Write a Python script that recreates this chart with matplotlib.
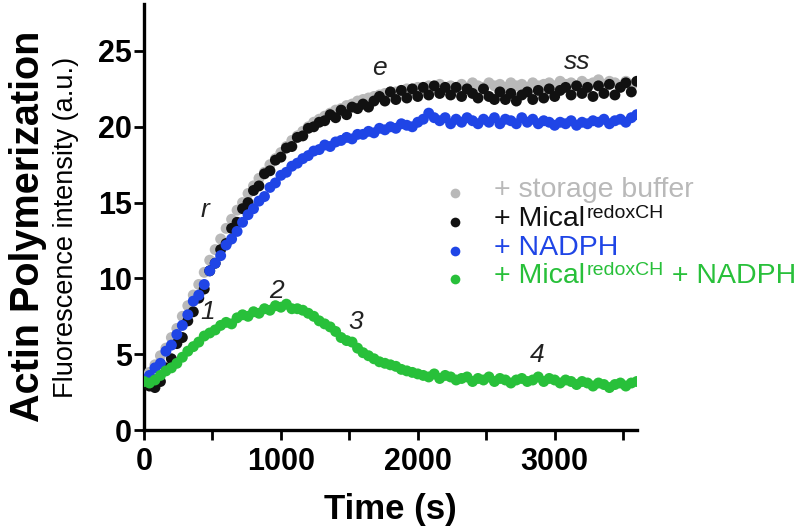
# Actin polymerization time course, four conditions
import numpy as np
import matplotlib.pyplot as plt
from matplotlib.lines import Line2D
from matplotlib.ticker import MultipleLocator

plt.rcParams['font.family'] = ['Liberation Sans', 'DejaVu Sans']

# --------------------------------------------------- data
time_s = np.arange(0, 3601, 40)

storage_buffer = [
    3.5, 3.8, 4.3, 4.9, 5.4, 6.1, 6.7, 7.5, 8.2, 8.9,
    9.6, 10.4, 11.2, 11.9, 12.6, 13.3, 13.9, 14.5, 15.0, 15.6,
    16.1, 16.6, 17.0, 17.5, 17.9, 18.3, 18.7, 19.1, 19.4, 19.7,
    20.0, 20.3, 20.5, 20.7, 20.9, 21.1, 21.2, 21.4, 21.5, 21.7,
    21.8, 21.9, 22.0, 22.1, 22.2, 22.3, 22.3, 22.4, 22.5, 22.4,
    22.6, 22.5, 22.7, 22.6, 22.8, 22.6, 22.7, 22.5, 22.8, 22.6,
    22.9, 22.7, 22.6, 22.9, 22.7, 22.8, 22.6, 22.9, 22.7, 22.8,
    22.6, 22.9, 22.7, 22.8, 22.9, 22.7, 23.0, 22.8, 22.9, 22.7,
    23.0, 22.8, 22.9, 23.1, 22.8, 23.0, 22.9, 22.7, 23.0, 22.8,
    22.9]

mical = [
    3.1, 2.9, 2.8, 3.2, 4.1, 4.7, 5.7, 6.1, 7.2, 7.8,
    8.7, 9.3, 10.5, 11.0, 11.9, 12.3, 13.3, 13.7, 14.6, 15.0,
    15.8, 16.1, 16.9, 17.1, 17.8, 18.0, 18.6, 18.7, 19.3, 19.4,
    19.9, 20.0, 20.3, 20.4, 20.8, 20.6, 21.1, 20.8, 21.3, 21.2,
    21.5, 21.3, 21.7, 22.0, 21.7, 22.3, 21.8, 22.4, 21.9, 22.5,
    22.0, 22.6, 22.1, 22.7, 22.2, 22.6, 22.1, 22.6, 22.0, 22.5,
    22.2, 21.9, 22.5, 22.0, 21.8, 22.3, 21.8, 22.2, 21.7, 22.1,
    22.3, 21.8, 22.4, 21.9, 22.5, 22.0, 22.4, 22.6, 22.1, 22.7,
    22.2, 22.6, 22.0, 22.7, 22.2, 22.8, 22.1, 22.6, 22.9, 22.3,
    23.0]

nadph = [
    3.3, 3.6, 4.1, 4.4, 5.2, 5.6, 6.3, 6.9, 7.6, 8.5,
    8.9, 9.6, 10.5, 11.0, 11.5, 12.2, 12.6, 13.1, 13.7, 14.2,
    14.6, 15.1, 15.4, 16.0, 16.3, 16.8, 17.0, 17.4, 17.6, 17.9,
    18.1, 18.4, 18.5, 18.8, 18.7, 19.0, 19.1, 19.3, 19.2, 19.5,
    19.5, 19.7, 19.6, 19.9, 19.8, 20.0, 19.9, 20.2, 20.1, 20.0,
    20.3, 20.5, 20.9, 20.6, 20.4, 20.6, 20.2, 20.5, 20.3, 20.6,
    20.4, 20.2, 20.5, 20.3, 20.6, 20.2, 20.5, 20.4, 20.2, 20.6,
    20.3, 20.5, 20.2, 20.4, 20.3, 20.1, 20.3, 20.2, 20.4, 20.1,
    20.3, 20.2, 20.4, 20.3, 20.5, 20.2, 20.4, 20.5, 20.3, 20.6,
    20.8]

mical_nadph = [
    3.2, 3.1, 3.3, 3.6, 3.9, 4.1, 4.4, 4.8, 5.2, 5.5,
    5.8, 6.2, 6.4, 6.6, 6.9, 7.1, 7.0, 7.4, 7.6, 7.5,
    7.8, 7.7, 8.0, 7.9, 8.2, 8.1, 8.3, 8.0, 8.0, 7.9,
    7.7, 7.5, 7.2, 7.0, 6.8, 6.5, 6.1, 5.9, 5.8, 5.4,
    5.1, 4.9, 4.7, 4.5, 4.4, 4.3, 4.2, 4.0, 3.9, 3.8,
    3.7, 3.6, 3.5, 3.7, 3.4, 3.6, 3.5, 3.3, 3.4, 3.5,
    3.2, 3.4, 3.3, 3.5, 3.2, 3.4, 3.3, 3.1, 3.3, 3.4,
    3.2, 3.3, 3.5, 3.2, 3.4, 3.3, 3.1, 3.3, 3.2, 3.0,
    3.2, 3.1, 2.9, 3.1, 3.0, 2.8, 3.0, 3.1, 2.9, 3.1,
    3.2]

# legend labels: (main text, superscript, trailing text)
labels = [("+ storage buffer", "", ""),
          ("+ Mical", "redoxCH", ""),
          ("+ NADPH", "", ""),
          ("+ Mical", "redoxCH", " + NADPH")]
colors = ["#b9b9b9", "#111111", "#1f45e6", "#28c03a"]
series = [storage_buffer, mical, nadph, mical_nadph]

# phase labels on the curves (text, time, intensity)
notes = [("r", 445, 14.5), ("e", 1723, 23.9), ("ss", 3168, 24.3),
         ("1", 467, 7.8), ("2", 970, 9.2), ("3", 1547, 7.1), ("4", 2870, 4.95)]

# --------------------------------------------------- plotting
W, H = 800, 532
fig = plt.figure(figsize=(W / 100, H / 100), dpi=100)
ax = fig.add_axes([0.18, 0.1917, 0.616, 0.8008])

for y, c in zip(series, colors):
    ax.scatter(time_s, y, s=62, color=c, edgecolors='none', zorder=3)

for txt, x, y in notes:
    ax.text(x, y, txt, fontsize=19, fontstyle='italic', ha='center', va='center',
            color='#222222')

ax.set_xlim(0, 3600)
ax.set_ylim(0, 28.1)
ax.xaxis.set_major_locator(MultipleLocator(1000))
ax.xaxis.set_minor_locator(MultipleLocator(500))
ax.yaxis.set_major_locator(MultipleLocator(5))

for side in ['top', 'right']:
    ax.spines[side].set_visible(False)
for side in ['left', 'bottom']:
    ax.spines[side].set_linewidth(2.4)

ax.tick_params(which='both', direction='out', length=7.5, width=2.0)
ax.tick_params(axis='y', pad=1)
ax.tick_params(axis='x', pad=5)
for lbl in ax.get_xticklabels() + ax.get_yticklabels():
    lbl.set_fontsize(22)
    lbl.set_fontweight('bold')

ax.set_xlabel("Time (s)", fontsize=25, fontweight='bold', labelpad=11)

fig.text(0.035, 0.575, "Actin Polymerization", rotation=90, fontsize=28.5,
         fontweight='bold', ha='center', va='center')
fig.text(0.083, 0.572, "Fluorescence intensity (a.u.)", rotation=90, fontsize=19.5,
         ha='center', va='center')

# legend, drawn row by row so the spacing stays even
row_y = [193, 222, 251, 279]
for ry, c, (main, sup, tail) in zip(row_y, colors, labels):
    fig.add_artist(Line2D([455 / W], [1 - ry / H], transform=fig.transFigure,
                          marker='o', markersize=7, color=c, markeredgewidth=0,
                          linestyle='none'))
    t1 = fig.text(494 / W, 1 - (ry + 10) / H, main, fontsize=20.5, color=c,
                  ha='left', va='bottom')
    if sup:
        t2 = ax.annotate(sup, xy=(1, 0), xycoords=t1, xytext=(1, 7),
                         textcoords='offset points', fontsize=14, color=c,
                         ha='left', va='bottom', annotation_clip=False)
        if tail:
            ax.annotate(tail, xy=(1, 0), xycoords=(t2, t1), xytext=(0, 0),
                        textcoords='offset points', fontsize=20.5, color=c,
                        ha='left', va='bottom', annotation_clip=False)

fig.savefig("out.png", dpi=100)
